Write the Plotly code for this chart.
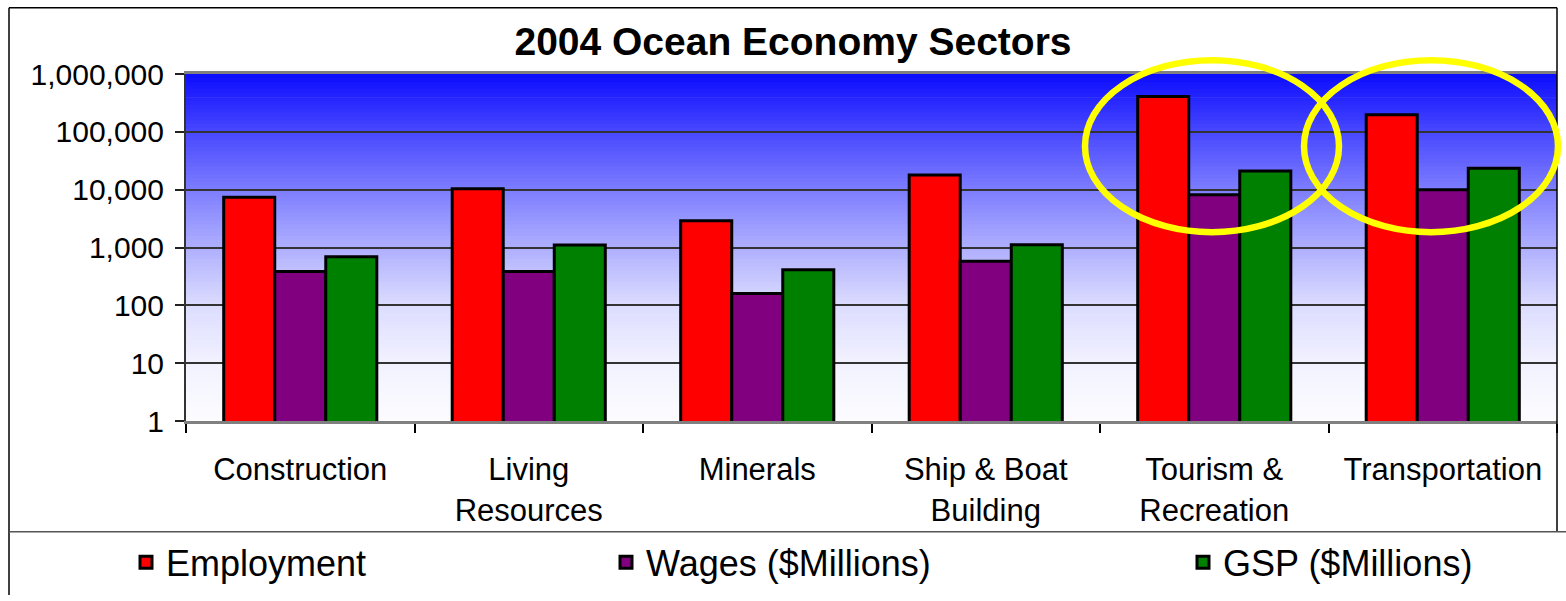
import plotly.graph_objects as go

# ---------------- data ----------------
categories = ["Construction", "Living<br>Resources", "Minerals",
              "Ship & Boat<br>Building", "Tourism &<br>Recreation", "Transportation"]
employment = [7400, 10400, 2900, 18000, 410000, 198000]
wages = [383, 383, 160, 580, 8200, 10000]
gsp = [693, 1100, 412, 1120, 21100, 23500]
series_names = ["Employment", "Wages ($Millions)", "GSP ($Millions)"]
series_colors = ["#FF0000", "#800080", "#008000"]
y_tickvals = [1, 10, 100, 1000, 10000, 100000, 1000000]
y_ticktext = ["1", "10", "100", "1,000", "10,000", "100,000", "1,000,000"]

# ---------------- layout geometry (pixels) ----------------
W, H = 1566, 601
PL, PR, PT, PB = 186, 1557, 74, 425
FONT = "Liberation Sans, Arial, sans-serif"


def px_x(px):
    return (px - PL) / (PR - PL)


def px_y(py):
    return (PB - py) / (PB - PT)


fig = go.Figure()
legend_ids = ["legend", "legend2", "legend3"]
for name, vals, color, lg in zip(series_names, [employment, wages, gsp], series_colors, legend_ids):
    fig.add_trace(go.Bar(
        x=categories, y=vals, name=name, legend=lg,
        marker=dict(color=color, line=dict(color="black", width=3)),
    ))

shapes = []
# gradient background (blue at top to white at bottom)
stops = [(0.0, 12), (1 / 6, 72), (2 / 6, 125), (3 / 6, 175), (4 / 6, 220), (5 / 6, 242), (1.0, 252)]


def grad(t):
    for (t0, v0), (t1, v1) in zip(stops[:-1], stops[1:]):
        if t0 <= t <= t1:
            return v0 + (v1 - v0) * (t - t0) / (t1 - t0)
    return stops[-1][1]


N = 90
for i in range(N):
    t0 = i / N
    t1 = (i + 1) / N
    v = int(round(grad((t0 + t1) / 2)))
    shapes.append(dict(type="rect", xref="paper", yref="paper", x0=0, x1=1,
                       y0=1 - t1 - 0.002, y1=1 - t0, line=dict(width=0),
                       fillcolor=f"rgb({v},{v},255)", layer="below"))

# outer chart frame and legend separator
frame = dict(color="black", width=1.5)
shapes += [
    dict(type="line", xref="paper", yref="paper", x0=px_x(9), x1=px_x(9), y0=px_y(601), y1=px_y(7), line=frame),
    dict(type="line", xref="paper", yref="paper", x0=px_x(9), x1=px_x(1557), y0=px_y(7), y1=px_y(7), line=frame),
    dict(type="line", xref="paper", yref="paper", x0=px_x(1557), x1=px_x(1557), y0=px_y(537), y1=px_y(7), line=frame),
    dict(type="line", xref="paper", yref="paper", x0=px_x(9), x1=px_x(1566), y0=px_y(537), y1=px_y(537),
         line=dict(color="#555555", width=1.5)),
]
# yellow highlight ellipses
for x0, x1 in [(1085, 1339), (1304, 1558)]:
    shapes.append(dict(type="circle", xref="paper", yref="paper",
                       x0=px_x(x0), x1=px_x(x1), y0=px_y(234), y1=px_y(60),
                       line=dict(color="#FFFF00", width=6.5), layer="above"))

legend_common = dict(orientation="h", xanchor="left", yanchor="middle",
                     bgcolor="rgba(0,0,0,0)", font=dict(family=FONT, size=36, color="black"))

fig.update_layout(
    width=W, height=H, autosize=False,
    margin=dict(l=PL, r=W - PR, t=PT, b=H - PB, pad=0),
    paper_bgcolor="white", plot_bgcolor="rgba(0,0,0,0)",
    font=dict(family=FONT, color="black"),
    title=dict(text="<b>2004 Ocean Economy Sectors</b>", font=dict(family=FONT, size=39, color="black"),
               x=793 / W, xref="container", xanchor="center",
               y=1 - 41 / H, yref="container", yanchor="middle"),
    barmode="group", bargap=0.33, bargroupgap=0,
    shapes=shapes,
    legend=dict(legend_common, x=px_x(126), y=px_y(568)),
    legend2=dict(legend_common, x=px_x(606), y=px_y(568)),
    legend3=dict(legend_common, x=px_x(1183), y=px_y(568)),
    showlegend=True,
)

fig.update_xaxes(
    type="category", tickson="boundaries", ticks="outside", ticklen=9, tickwidth=1.5, tickcolor="black",
    showline=True, linecolor="#808080", linewidth=3, mirror=True,
    tickfont=dict(family=FONT, size=31, color="black"), ticklabelstandoff=19,
    showgrid=False,
)
fig.update_yaxes(
    type="log", range=[0, 6], tickvals=y_tickvals, ticktext=y_ticktext,
    ticks="outside", ticklen=9, tickwidth=1.5, tickcolor="#222222",
    showline=True, linecolor="#333333", linewidth=2,
    showgrid=True, gridcolor="#333333", gridwidth=1.5,
    tickfont=dict(family=FONT, size=30, color="black"), ticklabelstandoff=5,
)

fig.write_html("out.html", config={"displayModeBar": False},
               post_script="document.body.style.margin='0';document.body.style.overflow='hidden';")
